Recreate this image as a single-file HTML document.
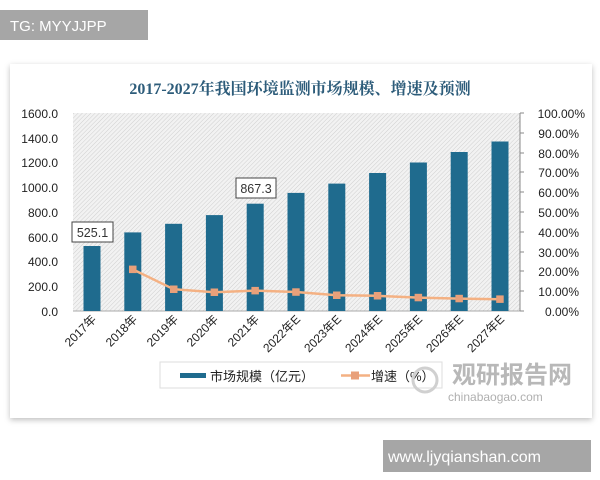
<!DOCTYPE html>
<html><head><meta charset="utf-8"><style>
body{margin:0;width:600px;height:480px;background:#fff;position:relative;overflow:hidden;font-family:"Liberation Sans","Noto Sans CJK SC",sans-serif}
</style></head><body>
<svg width="600" height="480" style="position:absolute;left:0;top:0" font-family="Liberation Sans, Noto Sans CJK SC, sans-serif">
<defs>
<pattern id="h" width="3" height="3" patternUnits="userSpaceOnUse" patternTransform="rotate(45)">
<rect width="3" height="3" fill="#f2f2f2"/><line x1="0" y1="0" x2="0" y2="3" stroke="#cfcfcf" stroke-width="1"/></pattern>
<filter id="sh"><feDropShadow dx="0" dy="2" stdDeviation="3" flood-color="#000" flood-opacity="0.25"/></filter>
</defs>
<rect x="0" y="0" width="600" height="480" fill="#fff"/>
<rect x="10" y="64" width="582" height="354" fill="#fff" filter="url(#sh)"/>
<rect x="0" y="10" width="148" height="30" fill="#a6a6a6"/>
<text x="10" y="31" font-size="15" fill="#fff">TG: MYYJJPP</text>
<text x="300" y="94" font-size="16" font-weight="bold" fill="#2d5c7a" text-anchor="middle" font-family="Liberation Serif, Noto Serif CJK SC, serif">2017-2027年我国环境监测市场规模、增速及预测</text>
<rect x="73" y="113" width="447" height="198" fill="url(#h)"/>
<line x1="73" y1="311" x2="522" y2="311" stroke="#aaa"/>
<line x1="520" y1="113" x2="520" y2="311" stroke="#888"/>
<g stroke="#888"><line x1="520" y1="113" x2="524" y2="113"/><line x1="520" y1="133" x2="524" y2="133"/><line x1="520" y1="153" x2="524" y2="153"/><line x1="520" y1="172" x2="524" y2="172"/><line x1="520" y1="192" x2="524" y2="192"/><line x1="520" y1="212" x2="524" y2="212"/><line x1="520" y1="232" x2="524" y2="232"/><line x1="520" y1="252" x2="524" y2="252"/><line x1="520" y1="271" x2="524" y2="271"/><line x1="520" y1="291" x2="524" y2="291"/><line x1="520" y1="311" x2="524" y2="311"/></g>
<g font-size="12" fill="#222" text-anchor="end">
<text x="58" y="316">0.0</text><text x="58" y="291">200.0</text><text x="58" y="266">400.0</text><text x="58" y="242">600.0</text><text x="58" y="217">800.0</text><text x="58" y="192">1000.0</text><text x="58" y="167">1200.0</text><text x="58" y="143">1400.0</text><text x="58" y="118">1600.0</text>
</g>
<g font-size="12" fill="#222" text-anchor="end">
<text x="579" y="316">0.00%</text><text x="579" y="296">10.00%</text><text x="579" y="276">20.00%</text><text x="579" y="257">30.00%</text><text x="579" y="237">40.00%</text><text x="579" y="217">50.00%</text><text x="579" y="197">60.00%</text><text x="579" y="177">70.00%</text><text x="579" y="158">80.00%</text><text x="579" y="138">90.00%</text><text x="585" y="118">100.00%</text>
</g>
<g fill="#1f6b8e">
<rect x="83.5" y="246" width="17" height="65"/>
<rect x="124.3" y="232.4" width="17" height="78.6"/>
<rect x="165.1" y="223.8" width="17" height="87.2"/>
<rect x="205.9" y="215.1" width="17" height="95.9"/>
<rect x="246.7" y="203.7" width="17" height="107.3"/>
<rect x="287.5" y="192.9" width="17" height="118.1"/>
<rect x="328.3" y="183.6" width="17" height="127.4"/>
<rect x="369.1" y="173" width="17" height="138"/>
<rect x="409.9" y="162.5" width="17" height="148.5"/>
<rect x="450.7" y="152" width="17" height="159"/>
<rect x="491.5" y="141.5" width="17" height="169.5"/>
</g>
<polyline fill="none" stroke="#f4b183" stroke-width="2.5" points="132.8,269.4 173.6,289.2 214.4,292.2 255.2,290.6 296,292 336.8,295.2 377.6,295.8 418.4,297.6 459.2,298.6 500,299.2"/>
<g fill="#e8a07a">
<rect x="129" y="265.6" width="7.5" height="7.5"/><rect x="170" y="285.5" width="7.5" height="7.5"/><rect x="210.6" y="288.5" width="7.5" height="7.5"/><rect x="251.4" y="286.9" width="7.5" height="7.5"/><rect x="292.2" y="288.3" width="7.5" height="7.5"/><rect x="333" y="291.5" width="7.5" height="7.5"/><rect x="373.8" y="292" width="7.5" height="7.5"/><rect x="414.6" y="293.8" width="7.5" height="7.5"/><rect x="455.4" y="294.8" width="7.5" height="7.5"/><rect x="496.2" y="295.4" width="7.5" height="7.5"/>
</g>
<rect x="72" y="222" width="41" height="20" fill="#fff" stroke="#444"/>
<text x="92.5" y="237" font-size="12.5" fill="#333" text-anchor="middle">525.1</text>
<rect x="236" y="178" width="40" height="20" fill="#fff" stroke="#444"/>
<text x="256" y="193" font-size="12.5" fill="#333" text-anchor="middle">867.3</text>
<g font-size="12" fill="#222" text-anchor="end">
<text transform="translate(97,320) rotate(-45)">2017年</text>
<text transform="translate(138,320) rotate(-45)">2018年</text>
<text transform="translate(179,320) rotate(-45)">2019年</text>
<text transform="translate(219,320) rotate(-45)">2020年</text>
<text transform="translate(260,320) rotate(-45)">2021年</text>
<text transform="translate(301,320) rotate(-45)">2022年E</text>
<text transform="translate(342,320) rotate(-45)">2023年E</text>
<text transform="translate(383,320) rotate(-45)">2024年E</text>
<text transform="translate(423,320) rotate(-45)">2025年E</text>
<text transform="translate(464,320) rotate(-45)">2026年E</text>
<text transform="translate(505,320) rotate(-45)">2027年E</text>
</g>
<rect x="160" y="362" width="282" height="26" fill="#fff" stroke="#ddd"/>
<rect x="180" y="373" width="26" height="5" fill="#1f6b8e"/>
<text x="210" y="381" font-size="13" fill="#222">市场规模（亿元）</text>
<line x1="341" y1="375.5" x2="370" y2="375.5" stroke="#f4b183" stroke-width="2.5"/>
<rect x="351" y="371.5" width="8" height="8" fill="#e8a07a"/>
<text x="371" y="381" font-size="13" fill="#222">增速（%）</text>
<text x="452" y="383" font-size="24" font-weight="bold" fill="#b8b8b8">观研报告网</text>
<text x="448" y="401" font-size="12" fill="#b0b0b0">chinabaogao.com</text>
<circle cx="425" cy="380" r="12" fill="none" stroke="#d0d0d0" stroke-width="3"/>
<rect x="383" y="440" width="208" height="32" fill="#a6a6a6"/>
<text x="388" y="462" font-size="16" fill="#fff">www.ljyqianshan.com</text>
</svg>
</body></html>
